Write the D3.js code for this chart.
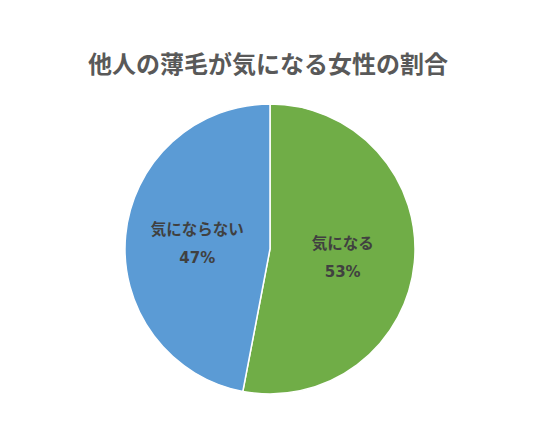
<!DOCTYPE html>
<html>
<head>
<meta charset="utf-8">
<script src="https://cdn.jsdelivr.net/npm/d3@7"></script>
<style>
  body { margin: 0; background: #fff; }
  svg { display: block; font-family: "Noto Sans CJK JP", "Noto Sans", sans-serif; }
</style>
</head>
<body>
<svg id="chart" width="540" height="440"></svg>
<script>
// chart data
const categories = ['気になる', '気にならない'];
const values = [53, 47];
const colors = ['#70AD47', '#5B9BD5'];

const svg = d3.select('#chart');
const cx = 270, cy = 249, radius = 145;

svg.append('text')
  .attr('x', 268)
  .attr('y', 62)
  .attr('text-anchor', 'middle')
  .attr('dominant-baseline', 'central')
  .attr('font-size', 24)
  .attr('font-weight', 'bold')
  .attr('fill', '#595959')
  .text('他人の薄毛が気になる女性の割合');

const pie = d3.pie().sort(null).value(d => d.value);
const arcs = pie(categories.map((c, i) => ({name: c, value: values[i], color: colors[i]})));

const arc = d3.arc().innerRadius(0).outerRadius(radius);
const labelArc = d3.arc().innerRadius(73).outerRadius(73);

const g = svg.append('g').attr('transform', `translate(${cx},${cy})`);

g.selectAll('path.slice')
  .data(arcs)
  .enter()
  .append('path')
  .attr('class', 'slice')
  .attr('d', arc)
  .attr('fill', d => d.data.color)
  .attr('stroke', '#fff')
  .attr('stroke-width', 1.5);

const labels = g.selectAll('g.label')
  .data(arcs)
  .enter()
  .append('g')
  .attr('class', 'label')
  .attr('transform', d => `translate(${labelArc.centroid(d)})`)
  .attr('text-anchor', 'middle')
  .attr('font-weight', 'bold')
  .attr('fill', '#404040');

labels.append('text')
  .attr('y', -14)
  .attr('dominant-baseline', 'central')
  .attr('font-size', 15.5)
  .text(d => d.data.name);

labels.append('text')
  .attr('y', 16)
  .attr('dominant-baseline', 'central')
  .attr('font-size', 15)
  .attr('font-family', '"DejaVu Sans", sans-serif')
  .text(d => `${d.data.value}%`);
</script>
</body>
</html>
